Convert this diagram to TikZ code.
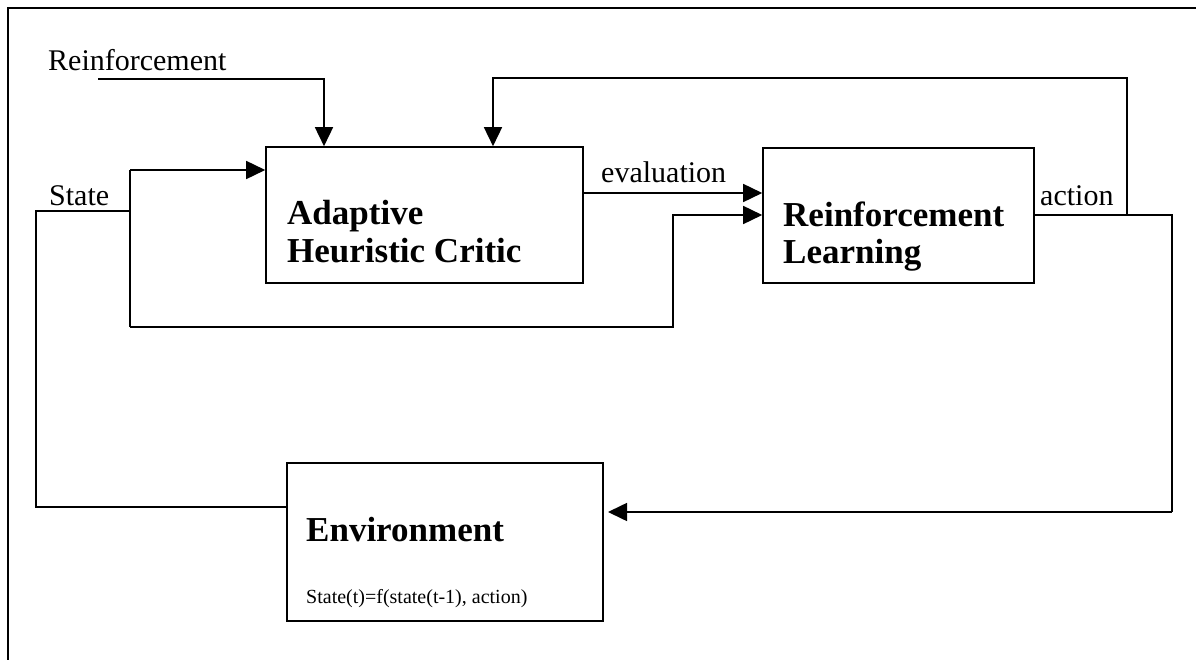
\documentclass[tikz,border=0pt]{standalone}
\usepackage{fontspec}
\setmainfont{Liberation Serif}
\usetikzlibrary{arrows.meta}
\tikzset{
  box/.style={draw, line width=1.6pt, inner sep=0pt},
  wire/.style={line width=1.6pt},
  arr/.style={wire, -{Triangle[length=19pt,width=18pt]}},
  lbl/.style={anchor=base west, inner sep=0pt, font=\fontsize{30}{34}\selectfont},
  title/.style={anchor=base west, inner sep=0pt, font=\fontsize{35}{38}\selectfont\bfseries},
  small/.style={anchor=base west, inner sep=0pt, font=\fontsize{20}{24}\selectfont},
}
\begin{document}
\begin{tikzpicture}[x=1pt, y=-1pt]
  \useasboundingbox (0,0) rectangle (1196,660);
  % frame: top and left rules only
  \draw[wire] (8,660) -- (8,8) -- (1196,8);

  % blocks
  \node[box, minimum width=317pt, minimum height=136pt] (ahc) at (424.5,215) {};
  \node[box, minimum width=271pt, minimum height=135pt] (rl)  at (898.5,215.5) {};
  \node[box, minimum width=316pt, minimum height=158pt] (env) at (445,542) {};

  % block titles
  \node[title] (ahc1) at (287,225) {Adaptive};
  \node[title] (ahc2) at (287,263) {Heuristic Critic};
  \node[title] (rl1)  at (783,227) {Reinforcement};
  \node[title] (rl2)  at (783,264) {Learning};
  \node[title] (env1) at (306,541) {Environment};
  \node[small] (env2) at (306,603) {State(t)=f(state(t-1), action)};

  % signal labels
  \node[lbl] (reinf) at (48,71)   {Reinforcement};
  \node[lbl] (state) at (49,206)  {State};
  \node[lbl] (eval)  at (601,183) {evaluation};
  \node[lbl] (act)   at (1040,206) {action};

  % routing points
  \coordinate (r0)  at (98,79);
  \coordinate (s0)  at (35,211);
  \coordinate (s1)  at (130,211);
  \coordinate (s2)  at (130,170);
  \coordinate (s3)  at (130,327);
  \coordinate (s4)  at (673,327);
  \coordinate (a0)  at (1127,215);
  \coordinate (a1)  at (1172,215);
  \coordinate (a2)  at (1172,512);
  \coordinate (fb)  at (1127,78);
  \coordinate (e0)  at (36,507);

  % reinforcement into the critic
  \draw[arr] (r0) -| (ahc.north -| 324,0);
  % state into the critic and into the learner
  \draw[wire] (s0) -- (s1);
  \draw[wire] (s2) -- (s3);
  \draw[arr] (s2) -- (ahc.west |- s2);
  \draw[arr] (s3) -- (s4) |- (rl.west |- 0,215);
  % evaluation
  \draw[arr] (ahc.east |- 0,193) -- (rl.west |- 0,193);
  % action out, fed back to the critic
  \draw[wire] (rl.east |- a1) -- (a1) -- (a2);
  \draw[arr] (a2) -- (608,512);
  \draw[arr] (a0) -- (fb) -| (ahc.north -| 493,0);
  % environment state back to the input
  \draw[wire] (env.west |- e0) -- (e0) -- (36,211);
\end{tikzpicture}
\end{document}
